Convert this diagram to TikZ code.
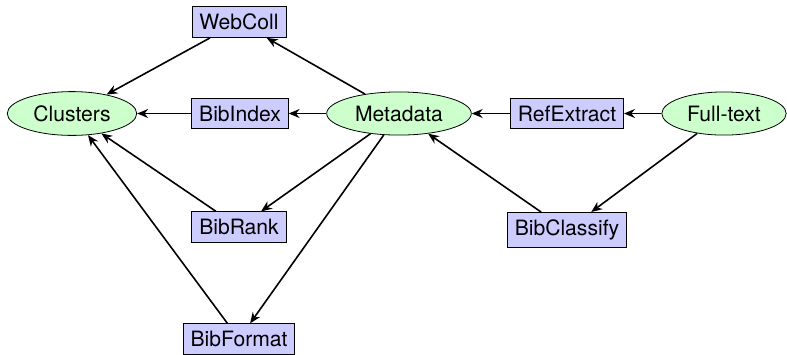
\documentclass[tikz,border=0pt]{standalone}
\usepackage{fontspec}
\setmainfont{TeX Gyre Heros}
\usepackage{xcolor}
\usetikzlibrary{shapes.geometric}
\usetikzlibrary{arrows.meta}
\definecolor{modblue}{RGB}{204,204,255}
\definecolor{datagreen}{RGB}{204,255,204}
\tikzset{module/.style={draw,fill=modblue,rectangle,inner xsep=3.7bp,inner ysep=3.7bp,
   font=\fontsize{10.6}{12}\selectfont},
 data/.style={draw,fill=datagreen,ellipse,inner xsep=3.6bp,inner ysep=3.7bp,
   font=\fontsize{10.6}{12}\selectfont},
 flow/.style={draw,line width=0.8pt,-{Stealth[length=5.5pt,width=4.5pt]}},
 }

\begin{document}
\begin{tikzpicture}[x=0.5bp,y=-0.5bp]
        \useasboundingbox (0,0) rectangle (787,354);
        \node[module] (webcoll) at (239,22) {WebColl};
        \node[data] (clusters) at (72,113.5) {Clusters};
        \node[module] (bibindex) at (240,113.5) {BibIndex};
        \node[data] (metadata) at (399,113.5) {Metadata};
        \node[module] (refextract) at (567,113.5) {RefExtract};
        \node[data] (fulltext) at (724,113.5) {Full-text};
        \node[module] (bibrank) at (239,227) {BibRank};
        \node[module] (bibclassify) at (567,230) {BibClassify};
        \node[module] (bibformat) at (239,339) {BibFormat};
        % edges into Clusters
        \draw[flow] (webcoll) -- (clusters);
        \draw[flow] (bibindex) -- (clusters);
        \draw[flow] (bibrank) -- (clusters);
        \draw[flow] (bibformat) -- (clusters);
        % edges out of Metadata
        \draw[flow] (metadata) -- (webcoll);
        \draw[flow] (metadata) -- (bibindex);
        \draw[flow] (metadata) -- (bibrank);
        \draw[flow] (metadata) -- (bibformat);
        % full-text side
        \draw[flow] (refextract) -- (metadata);
        \draw[flow] (fulltext) -- (refextract);
        \draw[flow] (bibclassify) -- (metadata);
        \draw[flow] (fulltext) -- (bibclassify);
\end{tikzpicture}
\end{document}
